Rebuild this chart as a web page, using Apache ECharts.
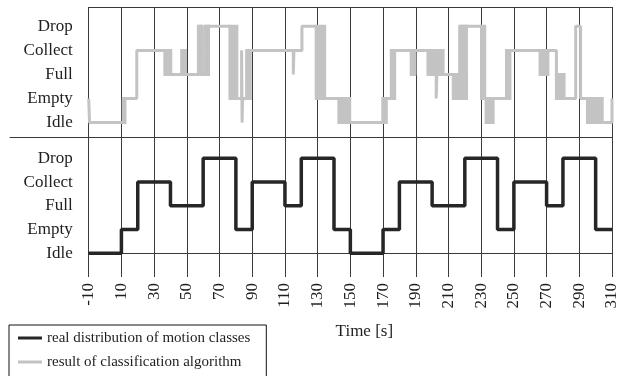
<!DOCTYPE html>
<html>
<head>
<meta charset="utf-8">
<script src="https://cdn.jsdelivr.net/npm/echarts@6/dist/echarts.min.js"></script>
<style>
html,body{margin:0;padding:0;background:#fff;}
#c{width:621px;height:376px;}
</style>
</head>
<body>
<div id="c"></div>
<script>
// ---- data ----
const levelNames = ['Idle', 'Empty', 'Full', 'Collect', 'Drop'];
const timeTicks = [-10, 10, 30, 50, 70, 90, 110, 130, 150, 170, 190, 210, 230, 250, 270, 290, 310];
const realName = 'real distribution of motion classes';
const className = 'result of classification algorithm';
// real class: [time from which it holds, level index]
const realSteps = [[-10,0],[10,1],[20,3],[40,2],[60,4],[80,1],[90,3],[110,2],[120,4],[140,1],[150,0],[170,1],[180,3],[200,2],[220,4],[240,1],[250,3],[270,2],[280,4],[300,1],[310,1]];
// classification result main trace
const classSteps = [[-10,1],[-9.5,0],[11.2,1],[19.4,3],[36.7,2],[47,3],[49.2,2],[57.1,4],[59.2,2],[61.2,4],[76.5,1],[83.5,3],[83.8,0],[84.1,1],[86.7,3],[115.1,2],[115.5,3],[120.4,4],[129.2,1],[143.1,0],[170,1],[175.1,3],[187.3,2],[189.4,3],[197.6,2],[202.5,1],[202.9,2],[213,1],[217,4],[230.2,1],[245.5,3],[276,2],[279,1],[287.8,4],[290.8,1],[295,0],[310,1]];
// rapid switching segments: [t start, t end, level low, level high]
const switchBlocks = [[11.2,12.2,0,1],[36.7,40.2,2,3],[47,49.2,2,3],[57.1,59.2,2,4],[61.2,63.3,2,4],[76.5,80.6,1,4],[86.7,88.8,1,3],[129.2,134.3,1,4],[143.1,146.5,0,1],[147.5,149.6,0,1],[170,172,0,1],[175.1,177.1,1,3],[187.3,189.4,2,3],[197.6,206.7,2,3],[213,221,1,2],[217,221,1,4],[230.2,232.2,1,4],[233,237.3,0,1],[245.5,247.6,1,3],[266,270.8,2,3],[276,280.7,1,2],[295,304,0,1]];

// ---- chart ----
const FONT = "'Liberation Serif','Times New Roman',serif";
const GRID_C = '#3a3a3a';
const GRAY = '#c3c3c3';
const BLACK = '#262626';
const tMin = timeTicks[0], tMax = timeTicks[timeTicks.length - 1];
const tStep = timeTicks[1] - timeTicks[0];

const chart = echarts.init(document.getElementById('c'), null, {renderer: 'canvas'});

const hiddenX = (gi) => ({gridIndex: gi, type: 'value', min: tMin, max: tMax, interval: tStep, show: false});
const levelY = (gi) => ({
  gridIndex: gi, type: 'value', min: 0, max: levelNames.length - 1, interval: 1,
  axisLine: {show: false}, axisTick: {show: false}, splitLine: {show: false},
  axisLabel: {formatter: v => levelNames[v] || '', margin: 16, fontFamily: FONT, fontSize: 17, color: '#1e1e1e'}
});

chart.setOption({
  animation: false,
  backgroundColor: '#fff',
  grid: [
    {left: 88.7, right: 9, top: 7, height: 246},      // frame
    {left: 88.7, right: 9, top: 26.3, height: 96.3},  // classification panel
    {left: 88.7, right: 9, top: 158.3, height: 95},   // real panel
    {left: 10, right: 9, top: 7, height: 130}          // separator
  ],
  xAxis: [
    {
      gridIndex: 0, type: 'value', min: tMin, max: tMax, interval: tStep,
      axisLine: {show: true, lineStyle: {color: GRID_C, width: 1}},
      axisTick: {show: true, length: 24, lineStyle: {color: GRID_C, width: 1}},
      splitLine: {show: true, lineStyle: {color: GRID_C, width: 1}},
      axisLabel: {rotate: 90, margin: 30, fontFamily: FONT, fontSize: 17, color: '#1e1e1e'},
      name: 'Time [s]', nameLocation: 'middle', nameGap: 70,
      nameTextStyle: {fontFamily: FONT, fontSize: 17, color: '#1e1e1e', padding: [0, 0, 0, 28]}
    },
    hiddenX(1),
    hiddenX(2),
    {
      gridIndex: 3, type: 'value', min: 0, max: 1,
      axisLine: {show: true, lineStyle: {color: GRID_C, width: 1}},
      axisTick: {show: false}, axisLabel: {show: false}, splitLine: {show: false}
    },
    {
      gridIndex: 0, type: 'value', position: 'top', min: tMin, max: tMax,
      axisLine: {show: true, lineStyle: {color: GRID_C, width: 1}},
      axisTick: {show: false}, axisLabel: {show: false}, splitLine: {show: false}
    }
  ],
  yAxis: [
    {gridIndex: 0, type: 'value', show: false, min: 0, max: 1},
    levelY(1),
    levelY(2),
    {gridIndex: 3, type: 'value', show: false, min: 0, max: 1}
  ],
  legend: {
    orient: 'vertical', left: 9, top: 325, height: 120,
    borderColor: '#111', borderWidth: 1, borderRadius: 0,
    padding: [1, 16, 12, 9], itemGap: 0,
    itemWidth: 24, itemHeight: 3, icon: 'rect',
    textStyle: {fontFamily: FONT, fontSize: 15, lineHeight: 24, color: '#1e1e1e'},
    data: [realName, className]
  },
  series: [
    {
      name: className, type: 'custom', xAxisIndex: 1, yAxisIndex: 1, clip: false,
      color: GRAY,
      data: switchBlocks,
      renderItem: function (params, api) {
        const p1 = api.coord([api.value(0), api.value(3)]);
        const p2 = api.coord([api.value(1), api.value(2)]);
        return {
          type: 'rect',
          shape: {x: p1[0], y: p1[1], width: p2[0] - p1[0], height: p2[1] - p1[1]},
          style: {fill: GRAY, stroke: GRAY, lineWidth: 3}
        };
      }
    },
    {
      name: className, type: 'line', xAxisIndex: 1, yAxisIndex: 1, step: 'end',
      clip: false, showSymbol: false, symbol: 'none', color: GRAY,
      lineStyle: {color: GRAY, width: 3}, data: classSteps
    },
    {
      name: realName, type: 'line', xAxisIndex: 2, yAxisIndex: 2, step: 'end',
      clip: false, showSymbol: false, symbol: 'none', color: BLACK,
      lineStyle: {color: BLACK, width: 3.5}, data: realSteps
    }
  ]
});
</script>
</body>
</html>
